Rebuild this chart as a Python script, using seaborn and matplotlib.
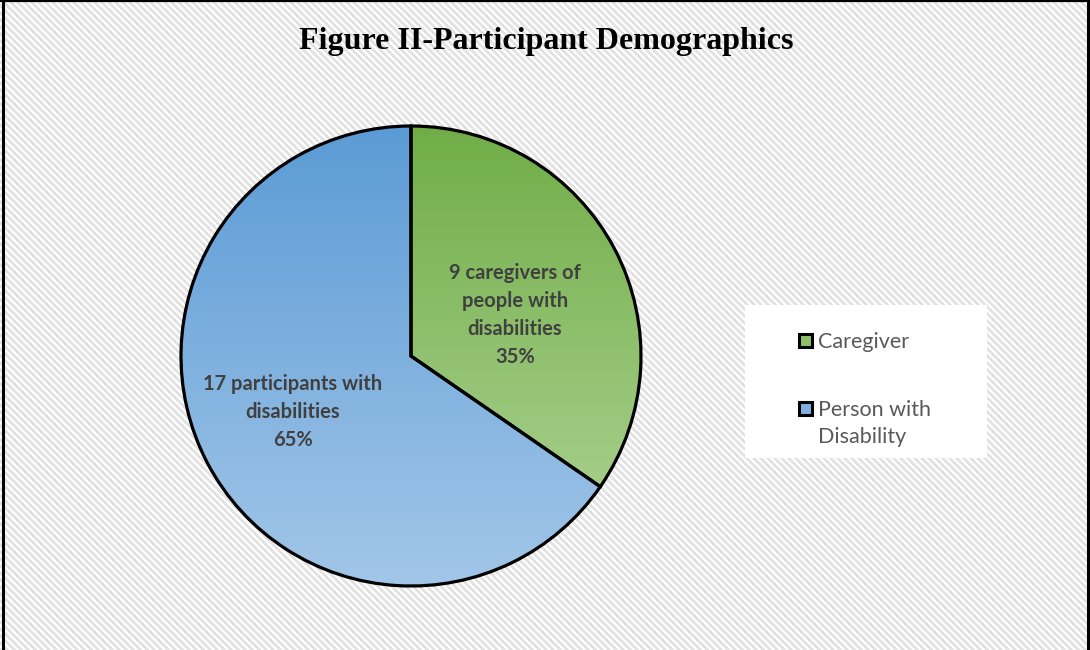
import numpy as np
import matplotlib
matplotlib.use("Agg")
import matplotlib.pyplot as plt
import seaborn as sns
from matplotlib.colors import LinearSegmentedColormap

# ---- data ----
categories = ["Caregiver", "Person with\nDisability"]
counts = [9, 17]
slice_labels = ["9 caregivers of\npeople with\ndisabilities\n35%",
                "17 participants with\ndisabilities\n65%"]
title = "Figure II-Participant Demographics"

sns.set_theme(style="white")
plt.rcParams['font.family'] = ['Lato', 'DejaVu Sans']

W, H = 1090, 650
fig = plt.figure(figsize=(W / 100, H / 100), dpi=100)

# background hatched pattern
bg = fig.add_axes([0, 0, 1, 1])
yy, xx = np.mgrid[0:H, 0:W]
period = 7
stripe = ((xx - yy) % period) < 3.5
img = np.where(stripe, 0.89, 1.0)
bg.imshow(img, cmap="gray", vmin=0, vmax=1, extent=[0, W, H, 0],
          interpolation="nearest", aspect="auto")
bg.set_xlim(0, W)
bg.set_ylim(H, 0)
bg.axis("off")
# frame lines
bg.plot([2.5, 2.5], [0, H], color="black", lw=2.2)
bg.plot([W - 2, W - 2], [0, H], color="black", lw=2.2)
bg.plot([0, W], [1, 1], color="black", lw=1.6)

# legend white box
bg.add_patch(plt.Rectangle((745, 305), 242, 153, facecolor="white",
                           edgecolor="none", zorder=2))

# title
fig.text(546 / W, 1 - 42 / H, title, ha="center", va="center",
         fontsize=23, fontweight="bold", family=["Liberation Serif"],
         color="black")

# pie
cx, cy, r = 411, 356, 230
pad = 1.03
ra = r * pad
ax = fig.add_axes([(cx - ra) / W, (H - cy - ra) / H, 2 * ra / W, 2 * ra / H])
ax.set_facecolor("none")
wedges, _ = ax.pie(counts, startangle=90, counterclock=False, radius=1,
                   colors=["#70AD47", "#5B9BD5"],
                   wedgeprops=dict(edgecolor="black", linewidth=2.3),
                   frame=False)
ax.set_xlim(-pad, pad)
ax.set_ylim(-pad, pad)
ax.axis("off")

grads = [("#70AD47", "#B2D69A"), ("#5B9BD5", "#A2C6E8")]
for w, (c_top, c_bot) in zip(wedges, grads):
    cmap = LinearSegmentedColormap.from_list("g", [c_top, c_bot])
    grad = np.linspace(0, 1, 256).reshape(-1, 1)
    im = ax.imshow(grad, cmap=cmap, extent=[-1, 1, -1, 1], origin="upper",
                   aspect="auto", zorder=1)
    im.set_clip_path(w)
    w.set_facecolor("none")
    w.set_zorder(2)

# slice labels
label_pos = [(515, 315), (293, 412)]
for (px, py), txt in zip(label_pos, slice_labels):
    fig.text(px / W, 1 - py / H, txt, ha="center", va="center",
             fontsize=14.5, fontweight="bold", color="#404040",
             linespacing=1.5)

# legend
leg_fill = ["#8CC168", "#7FB0E0"]
leg_y = [341, 409]
for lab, fc, y in zip(categories, leg_fill, leg_y):
    bg.add_patch(plt.Rectangle((799, y - 7), 13, 13, facecolor=fc,
                               edgecolor="black", lw=2.2, zorder=3))
    bg.text(818, y - 9, lab, ha="left", va="top", fontsize=15.5,
            color="#595959", zorder=3, linespacing=1.45)

fig.savefig("out.png", dpi=100)
